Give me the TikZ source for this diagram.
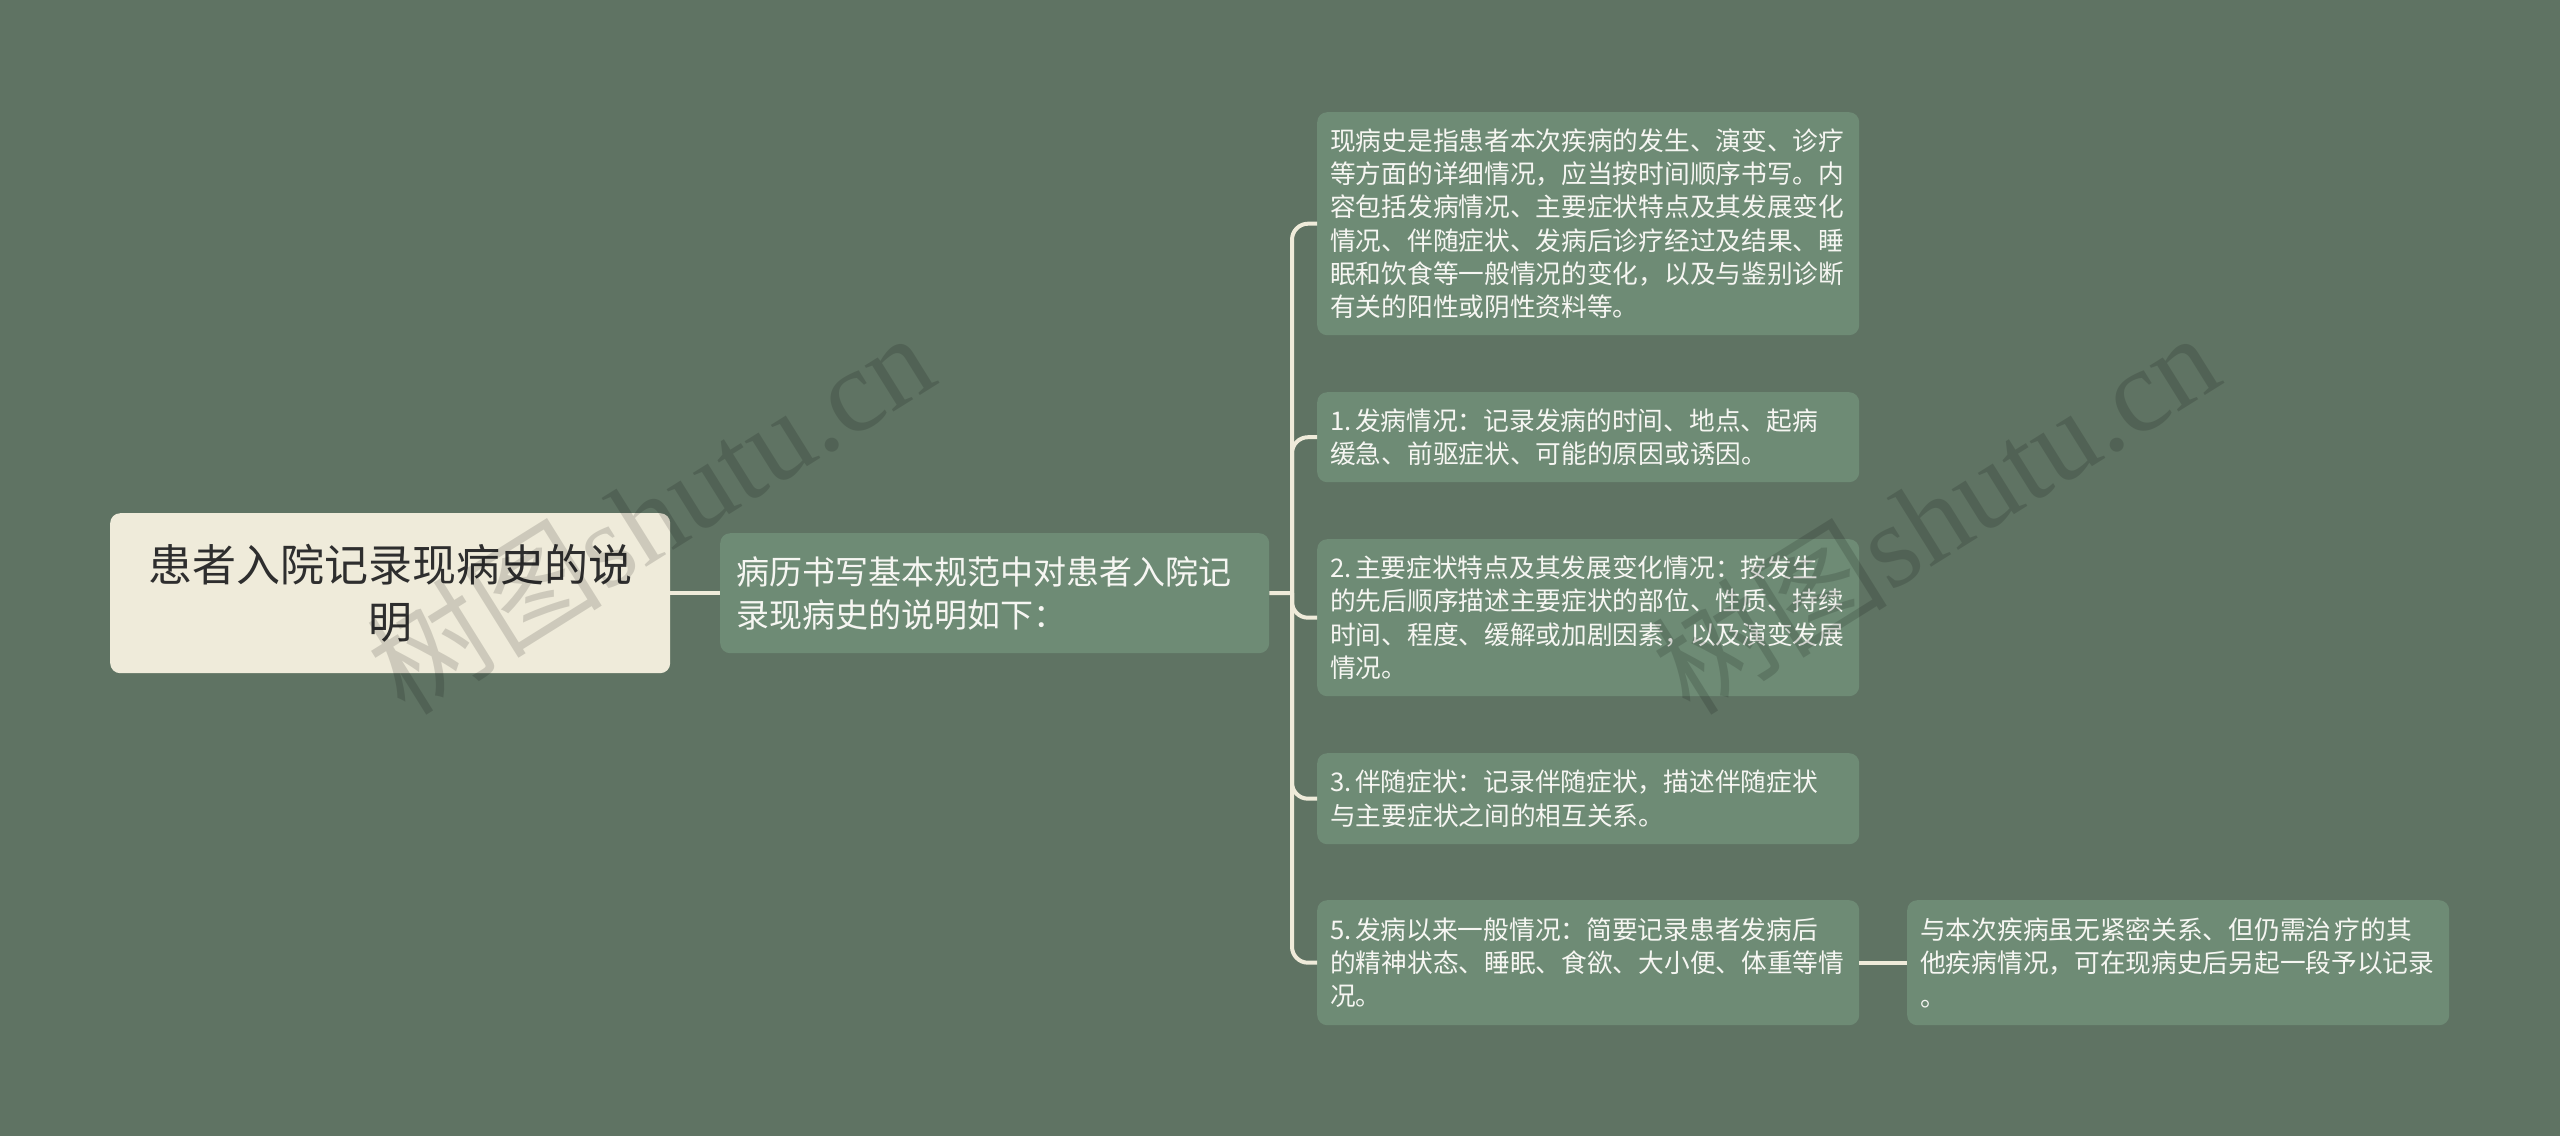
\documentclass[tikz,border=0pt]{standalone}
\usepackage{fontspec}
\setmainfont{Noto Sans CJK SC}
\newfontfamily\wmlat{Liberation Serif}
\definecolor{bgc}{HTML}{5F7363}
\definecolor{boxc}{HTML}{6E8B75}
\definecolor{rootc}{HTML}{EFEBDA}
\definecolor{linec}{HTML}{EFEBDA}
\definecolor{roottext}{HTML}{2E2E2E}
\definecolor{leaftext}{HTML}{F6F6F2}
\newcommand{\nsp}{\hspace{0.14em}}
\tikzset{
  rootbox/.style={fill=rootc, rounded corners=10pt, anchor=north west,
    minimum width=560pt, minimum height=160pt, inner sep=0pt, align=center,
    text=roottext, font=\fontsize{44}{57}\selectfont},
  midbox/.style={fill=boxc, rounded corners=10pt, anchor=north west,
    minimum width=549pt, minimum height=120pt, inner xsep=16pt, inner ysep=0pt,
    text width=517pt, align=left, text=leaftext, font=\fontsize{33}{43}\selectfont},
  leafbox/.style={fill=boxc, rounded corners=10pt, anchor=north west,
    minimum width=542pt, inner xsep=13pt, inner ysep=0pt,
    text width=516pt, align=left, text=leaftext, font=\fontsize{25.7}{33.3}\selectfont},
  conn/.style={draw=linec, line width=4pt},
  branch/.style={conn, rounded corners=16pt},
  wm/.style={text=black, text opacity=0.14, font=\fontsize{118}{118}\selectfont, inner sep=0pt}
}
\begin{document}
\begin{tikzpicture}[x=1pt,y=-1pt]
\fill[bgc] (0,0) rectangle (2560,1136);
\useasboundingbox (0,0) rectangle (2560,1136);

\node[rootbox] (root) at (110,513) {患者入院记录现病史的说\\明};
\node[midbox] (mid) at (720,533) {病历书写基本规范中对患者入院记\\录现病史的说明如下：};

\node[leafbox, minimum height=223pt] (c1) at (1317,112) {现病史是指患者本次疾病的发生、演变、诊疗\\等方面的详细情况，应当按时间顺序书写。内\\容包括发病情况、主要症状特点及其发展变化\\情况、伴随症状、发病后诊疗经过及结果、睡\\眠和饮食等一般情况的变化，以及与鉴别诊断\\有关的阳性或阴性资料等。};
\node[leafbox, minimum height=90pt] (c2) at (1317,392) {1.\nsp 发病情况：记录发病的时间、地点、起病\\缓急、前驱症状、可能的原因或诱因。};
\node[leafbox, minimum height=157pt] (c3) at (1317,539) {2.\nsp 主要症状特点及其发展变化情况：按发生\\的先后顺序描述主要症状的部位、性质、持续\\时间、程度、缓解或加剧因素，以及演变发展\\情况。};
\node[leafbox, minimum height=91pt] (c4) at (1317,753) {3.\nsp 伴随症状：记录伴随症状，描述伴随症状\\与主要症状之间的相互关系。};
\node[leafbox, minimum height=125pt] (c5) at (1317,900) {5.\nsp 发病以来一般情况：简要记录患者发病后\\的精神状态、睡眠、食欲、大小便、体重等情\\况。};
\node[leafbox, minimum height=125pt] (c6) at (1907,900) {与本次疾病虽无紧密关系、但仍需治\nsp 疗的其\\他疾病情况，可在现病史后另起一段予以记录\\。};

\coordinate (j) at (1292,593);
\draw[conn] (root.east) -- (mid.west);
\draw[conn] (mid.east) -- (j);
\draw[branch] (j) |- (c1.west);
\draw[branch] (j) |- (c2.west);
\draw[branch] (j) |- (c3.west);
\draw[branch] (j) |- (c4.west);
\draw[branch] (j) |- (c5.west);
\draw[conn] (c5.east) -- (c6.west);

\node[wm, rotate=32] (wm1) at (650,512) {树图{\wmlat shutu.cn}};
\node[wm, rotate=32] (wm2) at (1935,512) {树图{\wmlat shutu.cn}};
\end{tikzpicture}
\end{document}
